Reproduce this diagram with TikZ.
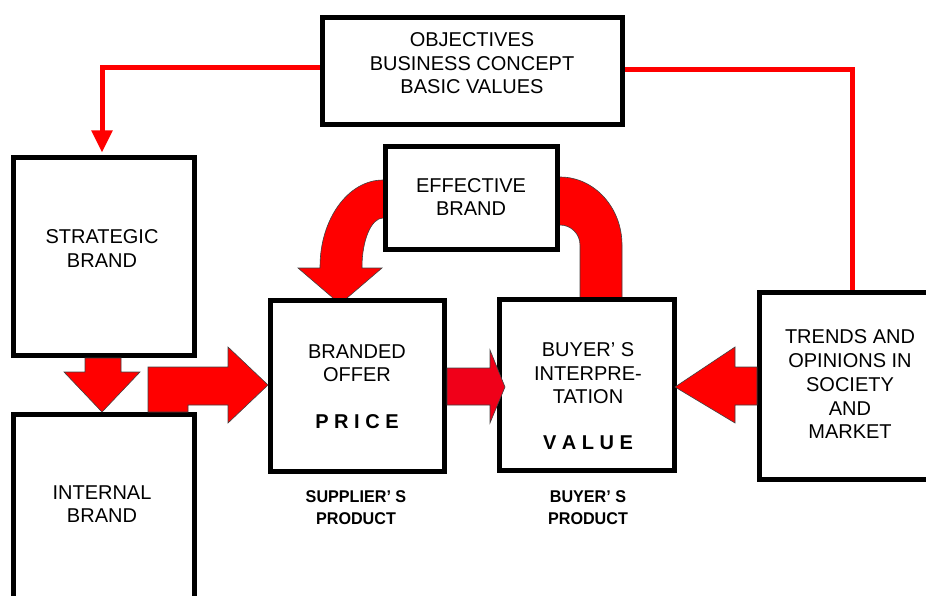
\documentclass[tikz,border=0pt]{standalone}
\usepackage{fontspec}
\setmainfont{Liberation Sans}
\newfontfamily\narrowfont[FakeStretch=0.95]{Liberation Sans}
\usetikzlibrary{arrows.meta}
\definecolor{bred}{RGB}{255,0,0}
\definecolor{mred}{RGB}{240,0,25}
\begin{document}
\begin{tikzpicture}[x=1pt,y=-1pt,
  box/.style={draw=black, line width=5pt, fill=white, inner sep=0pt},
  lbl/.style={align=center, inner sep=0pt, font=\fontsize{20}{23.5}\selectfont},
  spaced/.style={inner sep=0pt, font=\fontsize{20}{24}\selectfont\bfseries},
  prod/.style={align=center, inner sep=0pt, font=\narrowfont\bfseries\fontsize{17}{22}\selectfont},
  bigarrow/.style={fill=bred, draw=black!75, line width=0.6pt, line join=miter},
  link/.style={draw=bred, line width=5pt},
]
\useasboundingbox (0,0) rectangle (926,596);

% ---- anchors for the thin red links
\node[box, minimum width=300pt, minimum height=107pt, draw=none, fill=none] (obj) at (472.5,71) {};
\node[box, minimum width=181pt, minimum height=198pt, draw=none, fill=none] (strat) at (103.5,256.5) {};
\node[box, minimum width=181pt, minimum height=187pt, draw=none, fill=none] (trends) at (850,386) {};

\draw[link, -{Triangle[width=20pt,length=22pt]}]
  ([yshift=3pt]obj.west) -| ([xshift=-1.5pt,yshift=2.5pt]strat.north);
\draw[link] ([yshift=1pt]obj.east) -| ([xshift=2pt]trends.north);

% ---- curved arrows around the effective brand
\draw[bigarrow]
  (390,180) -- (383,180)
  arc[start angle=90, end angle=180, x radius=63pt, y radius=87pt]
  -- (320,268) -- (298,268) -- (340,304) -- (382,268) -- (362,268) -- (362,267)
  arc[start angle=180, end angle=90, x radius=21pt, y radius=49pt]
  -- (390,218) -- cycle;
\draw[bigarrow]
  (552,177) -- (560,177)
  arc[start angle=90, end angle=0, x radius=62pt, y radius=68pt]
  -- (622,302) -- (580,302) -- (580,245)
  arc[start angle=0, end angle=90, x radius=20pt, y radius=20pt]
  -- (552,225) -- cycle;

% ---- boxes
\node[box, minimum width=300pt, minimum height=107pt] (objbox) at (obj) {};
\node[box, minimum width=181pt, minimum height=198pt] (stratbox) at (strat) {};
\node[box, minimum width=181pt, minimum height=223pt] (internal) at (103.5,526) {};
\node[box, minimum width=172pt, minimum height=103pt] (eff) at (471.5,198) {};
\node[box, minimum width=174pt, minimum height=171pt] (branded) at (357.5,386) {};
\node[box, minimum width=175pt, minimum height=171pt] (buyer) at (587,385) {};
\node[box, minimum width=181pt, minimum height=187pt] (trendsbox) at (trends) {};

% ---- straight block arrows
\draw[bigarrow] (85,358) -- (121,358) -- (121,372) -- (140,372) -- (102,412)
  -- (64,372) -- (85,372) -- cycle;
\draw[bigarrow] (148,412) -- (148,367) -- (228,367) -- (228,347) -- (268,385)
  -- (228,423) -- (228,405) -- (188,405) -- (188,412) -- cycle;
\draw[bigarrow, fill=mred] (447,368) -- (490,368) -- (490,350) -- (505,387)
  -- (490,423) -- (490,405) -- (447,405) -- cycle;
\draw[bigarrow] (757,367) -- (735,367) -- (735,347) -- (675,387) -- (735,423)
  -- (735,405) -- (757,405) -- cycle;

% ---- texts
\node[lbl] (objtxt) at (472,63.5) {OBJECTIVES\\BUSINESS CONCEPT\\BASIC VALUES};
\node[lbl] (strattxt) at (102,248.5) {STRATEGIC\\BRAND};
\node[lbl] (inttxt) at (102,504) {INTERNAL\\BRAND};
\node[lbl] (efftxt) at (471,197) {EFFECTIVE\\BRAND};
\node[lbl] (brtxt) at (357,363) {BRANDED\\OFFER};
\node[spaced] (price) at (357,422) {P R I C E};
\node[lbl] (buytxt) at (588,373.5) {BUYER’ S\\INTERPRE-\\TATION};
\node[spaced] (value) at (588,443) {V A L U E};
\node[lbl, font=\fontsize{20}{23.75}\selectfont] (trtxt) at (850,384.5)
  {TRENDS AND\\OPINIONS IN\\SOCIETY\\AND\\MARKET};
\node[prod] (supp) at (356,508) {SUPPLIER’ S\\PRODUCT};
\node[prod] (bprod) at (588,508) {BUYER’ S\\PRODUCT};
\end{tikzpicture}
\end{document}
